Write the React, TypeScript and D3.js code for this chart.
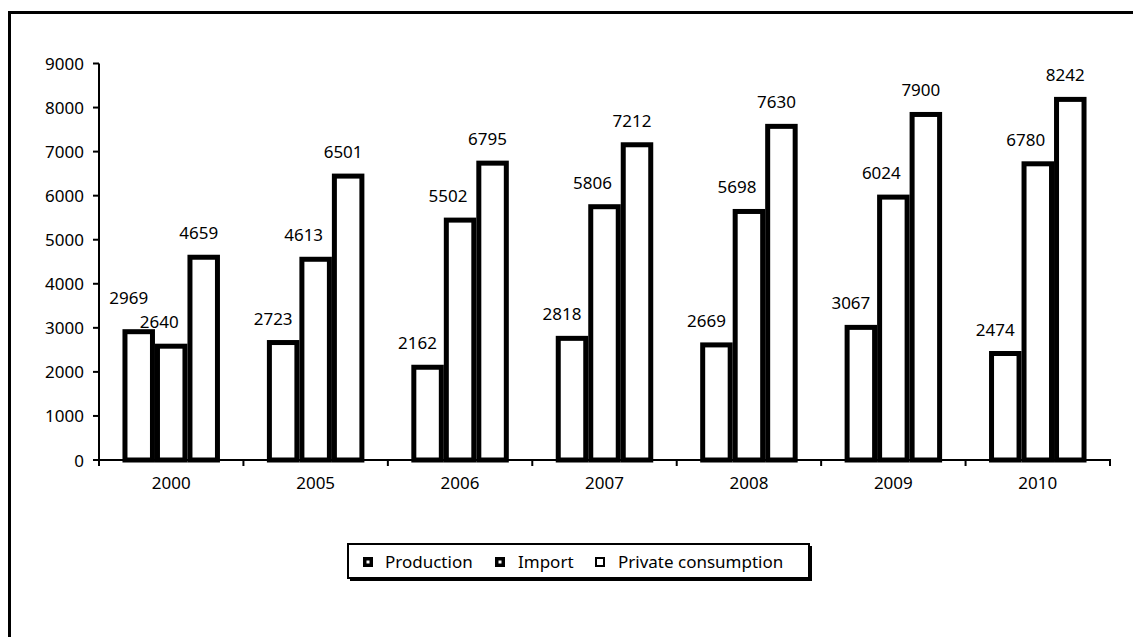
import React from "react";
import * as d3 from "d3";

const categories = ["2000", "2005", "2006", "2007", "2008", "2009", "2010"];
const seriesNames = ["Production", "Import", "Private consumption"];
const production = [2969, 2723, 2162, 2818, 2669, 3067, 2474];
const importValues = [2640, 4613, 5502, 5806, 5698, 6024, 6780];
const consumption = [4659, 6501, 6795, 7212, 7630, 7900, 8242];
const yTicks = [0, 1000, 2000, 3000, 4000, 5000, 6000, 7000, 8000, 9000];

const seriesValues = [production, importValues, consumption];

const W = 1133;
const H = 637;
const FONT = "'Noto Sans', 'Open Sans', sans-serif";

export default function App() {
  const left = 99;
  const right = 1110;
  const top = 63.5;
  const bottom = 460;

  const x0 = d3.scaleBand<string>().domain(categories).range([left, right]).paddingInner(0.325).paddingOuter(0.1625);
  const step = (right - left) / categories.length;
  const x1 = d3.scaleBand<string>().domain(seriesNames).range([0, x0.bandwidth()]).padding(0);
  const y = d3.scaleLinear().domain([0, 9000]).range([bottom, top]);

  const sw = 5;
  const labelDx = [-10, -12, -5];

  return (
    <svg width={W} height={H} style={{ position: "absolute", left: 0, top: 0, background: "#fff" }} fontFamily={FONT}>
      <rect x={0} y={0} width={W} height={H} fill="#fff" />
      <rect x={9.5} y={12.5} width={1130} height={650} fill="none" stroke="#000" strokeWidth={3} />

      {/* bars */}
      {categories.map((c, ci) => (
        <g key={c}>
          {seriesNames.map((s, si) => {
            const v = seriesValues[si][ci];
            const bx = (x0(c) as number) + (x1(s) as number);
            const bw = x1.bandwidth();
            const by = y(v);
            return (
              <rect
                key={s}
                x={bx + sw / 2}
                y={by + sw / 2}
                width={bw - sw}
                height={bottom - by - sw / 2}
                fill="#fff"
                stroke="#000"
                strokeWidth={sw}
              />
            );
          })}
        </g>
      ))}

      {/* data labels */}
      {categories.map((c, ci) => (
        <g key={"l" + c}>
          {seriesNames.map((s, si) => {
            const v = seriesValues[si][ci];
            const cx = (x0(c) as number) + (x1(s) as number) + x1.bandwidth() / 2 + labelDx[si];
            const dy = ci === 0 && si === 0 ? 32 : 22;
            return (
              <text key={s} x={cx} y={y(v) - dy} textAnchor="middle" dominantBaseline="central" fontSize={17} fill="#000">
                {v}
              </text>
            );
          })}
        </g>
      ))}

      {/* y axis */}
      <line x1={left} x2={left} y1={y(9000)} y2={bottom + 1} stroke="#000" strokeWidth={2} />
      {yTicks.map((t) => (
        <g key={t}>
          <line x1={left - 6} x2={left} y1={y(t)} y2={y(t)} stroke="#000" strokeWidth={2} />
          <text x={84} y={y(t)} textAnchor="end" dominantBaseline="central" fontSize={17} fill="#000">
            {t}
          </text>
        </g>
      ))}

      {/* x axis */}
      <line x1={left - 6} x2={right + 1} y1={bottom} y2={bottom} stroke="#000" strokeWidth={2} />
      {d3.range(categories.length + 1).map((i) => (
        <line key={i} x1={left + i * step} x2={left + i * step} y1={bottom} y2={bottom + 6} stroke="#000" strokeWidth={2} />
      ))}
      {categories.map((c) => (
        <text key={"x" + c} x={(x0(c) as number) + x0.bandwidth() / 2} y={482} textAnchor="middle" dominantBaseline="central" fontSize={17} fill="#000">
          {c}
        </text>
      ))}

      {/* legend */}
      <rect x={350} y={546} width={462} height={35} fill="#000" />
      <rect x={348} y={544} width={461} height={34} fill="#fff" stroke="#000" strokeWidth={2} />
      {[
        { sx: 363, tx: 385, thick: 3.5 },
        { sx: 495, tx: 518, thick: 3.5 },
        { sx: 595, tx: 618, thick: 2 },
      ].map((it, i) => (
        <g key={i}>
          <rect x={it.sx + it.thick / 2} y={557 + it.thick / 2} width={10 - it.thick} height={10 - it.thick} fill="#fff" stroke="#000" strokeWidth={it.thick} />
          <text x={it.tx} y={561} dominantBaseline="central" fontSize={17} fill="#000">
            {seriesNames[i]}
          </text>
        </g>
      ))}
    </svg>
  );
}
